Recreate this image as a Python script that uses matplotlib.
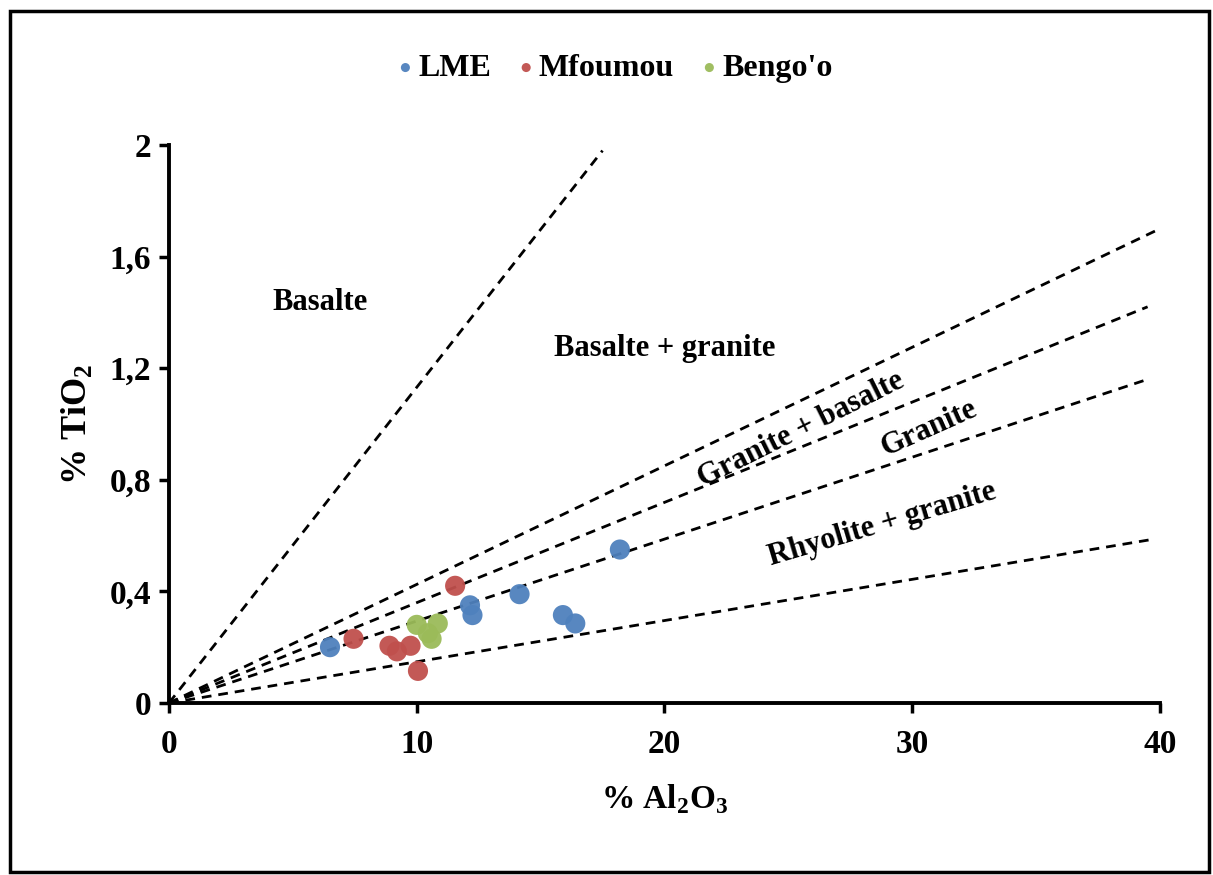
import matplotlib
matplotlib.use('Agg')
import matplotlib.pyplot as plt
from matplotlib.patches import Rectangle

plt.rcParams['font.family'] = ['Liberation Serif', 'DejaVu Serif']
plt.rcParams['font.weight'] = 'bold'
plt.rcParams['mathtext.fontset'] = 'custom'
plt.rcParams['mathtext.rm'] = 'Liberation Serif:bold'

# Samples (% Al2O3, % TiO2)
lme_al = [6.5, 12.15, 12.25, 14.15, 15.9, 16.4, 18.2]
lme_ti = [0.20, 0.35, 0.315, 0.39, 0.315, 0.285, 0.55]

mfoumou_al = [7.45, 8.9, 9.2, 9.75, 10.05, 11.55]
mfoumou_ti = [0.23, 0.205, 0.185, 0.205, 0.115, 0.42]

bengoo_al = [10.0, 10.85, 10.45, 10.6]
bengoo_ti = [0.28, 0.285, 0.25, 0.23]

# Field boundaries (from origin to end point)
boundary_al = [17.5, 40.0, 39.5, 39.5, 39.6]
boundary_ti = [1.98, 1.70, 1.42, 1.16, 0.585]

field_names = ['Basalte', 'Basalte + granite', 'Granite + basalte', 'Granite', 'Rhyolite + granite']
field_al = [6.1, 20.0, 25.5, 30.7, 28.8]
field_ti = [1.437, 1.269, 0.98, 0.985, 0.64]
field_rot = [0, 0, 26.5, 24, 16.5]

blue = '#4F81BD'
red = '#C0504D'
green = '#9BBB59'


def main():
    fig = plt.figure(figsize=(12.13, 8.75), dpi=100)
    ax = fig.add_axes([0.1393, 0.1966, 0.817, 0.6377])

    # Frame around the whole picture
    fig.patches.append(Rectangle((0.008, 0.003), 0.989, 0.985, transform=fig.transFigure,
                                 fill=False, edgecolor='black', linewidth=2.5))

    for x_end, y_end in zip(boundary_al, boundary_ti):
        ax.plot([0, x_end], [0, y_end], color='black', linewidth=2.0,
                dashes=(3.5, 2.5), zorder=2)

    kw = dict(s=210, edgecolors='none', zorder=3, alpha=0.95)
    ax.scatter(lme_al, lme_ti, color=blue, label='LME', **kw)
    ax.scatter(mfoumou_al, mfoumou_ti, color=red, label='Mfoumou', **kw)
    ax.scatter(bengoo_al, bengoo_ti, color=green, label="Bengo'o", **kw)

    for name, x, y, r in zip(field_names, field_al, field_ti, field_rot):
        ax.text(x, y, name, fontsize=22, fontweight='bold', rotation=r,
                rotation_mode='anchor', ha='center', va='center')

    ax.set_xlim(0, 40)
    ax.set_ylim(0, 2)
    ax.set_xticks([0, 10, 20, 30, 40])
    ax.set_yticks([0, 0.4, 0.8, 1.2, 1.6, 2.0])
    ax.set_yticklabels(['0', '0,4', '0,8', '1,2', '1,6', '2'])

    for s in ['top', 'right']:
        ax.spines[s].set_visible(False)
    for s in ['left', 'bottom']:
        ax.spines[s].set_linewidth(2.8)
    ax.tick_params(axis='both', width=2.5, length=7, labelsize=24, direction='out')
    ax.tick_params(axis='x', pad=12)
    ax.tick_params(axis='y', pad=6)

    ax.set_xlabel('% Al$_{\\mathregular{2}}$O$_{\\mathregular{3}}$', fontsize=24, fontweight='bold', labelpad=16)
    ax.set_ylabel('% TiO$_{\\mathregular{2}}$', fontsize=26, fontweight='bold', labelpad=11)

    fig.legend(loc='center', bbox_to_anchor=(0.505, 0.922), ncol=3, frameon=False,
               prop={'size': 23, 'weight': 'bold'}, markerscale=0.45,
               handletextpad=0.0, columnspacing=0.7, handlelength=0.8)

    fig.savefig('out.png', dpi=100)


if __name__ == '__main__':
    main()
